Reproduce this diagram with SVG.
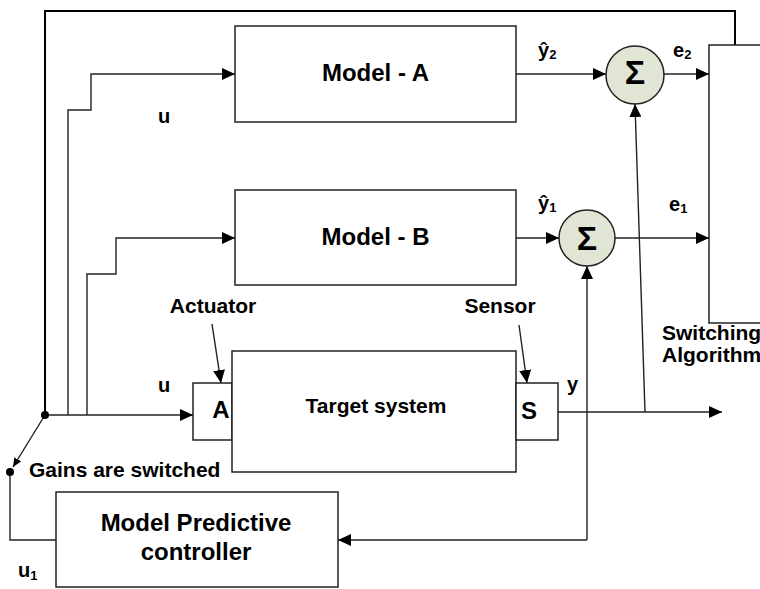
<svg xmlns="http://www.w3.org/2000/svg" width="760" height="589" viewBox="0 0 760 589">
<defs>
<style>
.box{fill:#fff;stroke:#222;stroke-width:1.5}
.sum{fill:#e1e5d3;stroke:#222;stroke-width:1.5}
.ln{fill:none;stroke:#222;stroke-width:1.4}
.t{font-family:"Liberation Sans",Arial,sans-serif;font-weight:bold;fill:#000}
.big{font-size:24px}
.med{font-size:21px}
.lab{font-size:20px}
.sig{font-size:34px}
.sub{font-size:13px}
</style>
<marker id="ar" markerUnits="userSpaceOnUse" markerWidth="13" markerHeight="12" refX="13" refY="6" orient="auto">
<path d="M0,0 L13,6 L0,12 z" fill="#000"/>
</marker>
<marker id="ars" markerUnits="userSpaceOnUse" markerWidth="9" markerHeight="8" refX="9" refY="4" orient="auto">
<path d="M0,0 L9,4 L0,8 z" fill="#000"/>
</marker>
</defs>
<rect width="760" height="589" fill="#fff"/>

<g id="connectors">
<path class="ln" style="stroke-width:2;stroke:#000" d="M45,415 V11 H735 V45"/>
<path class="ln" d="M68,415 V110 H91 V74 H235" marker-end="url(#ar)"/>
<path class="ln" d="M87,415 V274 H116 V238 H235" marker-end="url(#ar)"/>
<path class="ln" d="M45,415 H193" marker-end="url(#ar)"/>
<path class="ln" d="M45,415 L13,467" marker-end="url(#ars)"/>
<path class="ln" d="M10,472 V540 H56"/>
<path class="ln" d="M516,74 H606" marker-end="url(#ar)"/>
<path class="ln" d="M664,74 H709" marker-end="url(#ar)"/>
<path class="ln" d="M516,238 H559" marker-end="url(#ar)"/>
<path class="ln" d="M615,238 H709" marker-end="url(#ar)"/>
<path class="ln" d="M558,412 H722" marker-end="url(#ar)"/>
<path class="ln" d="M645,412 L635,104" marker-end="url(#ar)"/>
<path class="ln" d="M587,540 V266" marker-end="url(#ar)"/>
<path class="ln" d="M587,540 H338" marker-end="url(#ar)"/>
<path class="ln" d="M212,324 L221,383" marker-end="url(#ar)"/>
<path class="ln" d="M519,325 L527,383" marker-end="url(#ar)"/>
<circle cx="45" cy="415" r="4" fill="#000"/>
<circle cx="10" cy="472" r="4" fill="#000"/>
</g>

<g id="model-a">
<rect class="box" x="235" y="26" width="281" height="96"/>
<text class="t big" x="375.5" y="81" text-anchor="middle">Model - A</text>
</g>
<g id="model-b">
<rect class="box" x="235" y="190" width="281" height="95"/>
<text class="t big" x="375.5" y="245" text-anchor="middle">Model - B</text>
</g>
<g id="actuator">
<rect class="box" x="193" y="383" width="39" height="57"/>
<text class="t big" x="221" y="418" text-anchor="middle">A</text>
</g>
<g id="target-system">
<rect class="box" x="232" y="351" width="284" height="121"/>
<text class="t med" x="376" y="413" text-anchor="middle">Target system</text>
</g>
<g id="sensor">
<rect class="box" x="516" y="383" width="42" height="57"/>
<text class="t big" x="529" y="419" text-anchor="middle">S</text>
</g>
<g id="mpc">
<rect class="box" x="56" y="492" width="282" height="95"/>
<text class="t big" x="196" y="531" text-anchor="middle">Model Predictive</text>
<text class="t big" x="196" y="560" text-anchor="middle">controller</text>
</g>
<g id="switching">
<rect class="box" x="709" y="45" width="60" height="278"/>
<text class="t med" x="662" y="340">Switching</text>
<text class="t med" x="662" y="362">Algorithm</text>
</g>
<g id="sum2">
<circle class="sum" cx="635" cy="75" r="29"/>
<text class="t sig" x="635" y="84" text-anchor="middle">Σ</text>
</g>
<g id="sum1">
<circle class="sum" cx="587" cy="238" r="28"/>
<text class="t sig" x="587" y="250" text-anchor="middle">Σ</text>
</g>

<g id="labels">
<text class="t lab" x="158" y="123">u</text>
<text class="t lab" x="158" y="392">u</text>
<text class="t lab" x="18" y="577">u<tspan class="sub" dy="3">1</tspan></text>
<text class="t lab" x="538" y="57">ŷ<tspan class="sub" dy="2">2</tspan></text>
<text class="t lab" x="538" y="210">ŷ<tspan class="sub" dy="2">1</tspan></text>
<text class="t lab" x="673" y="57">e<tspan class="sub" dy="2">2</tspan></text>
<text class="t lab" x="669" y="211">e<tspan class="sub" dy="2">1</tspan></text>
<text class="t lab" x="567" y="391">y</text>
<text class="t med" x="213" y="313" text-anchor="middle">Actuator</text>
<text class="t med" x="500" y="313" text-anchor="middle">Sensor</text>
<text class="t med" x="29" y="477">Gains are switched</text>
</g>
</svg>
